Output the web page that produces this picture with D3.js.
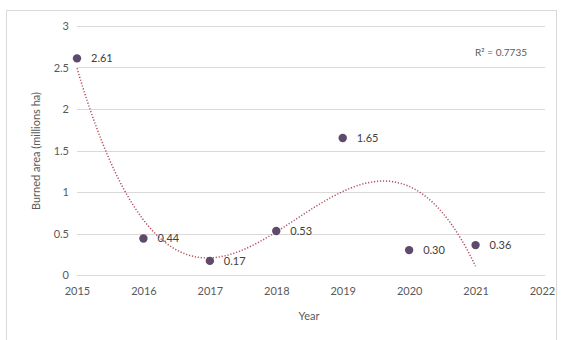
<!DOCTYPE html>
<html><head><meta charset="utf-8">
<script src="https://cdn.jsdelivr.net/npm/d3@7"></script>
<style>body{margin:0;background:#fff}svg{display:block}text{font-family:Lato,"Open Sans",sans-serif}</style>
</head><body>
<script>
const years = [2015, 2016, 2017, 2018, 2019, 2020, 2021];
const burned = [2.61, 0.44, 0.17, 0.53, 1.65, 0.30, 0.36];
const labels = ["2.61", "0.44", "0.17", "0.53", "1.65", "0.30", "0.36"];
const xTicks = [2015, 2016, 2017, 2018, 2019, 2020, 2021, 2022];
const yTicks = [0, 0.5, 1, 1.5, 2, 2.5, 3];
const yTickLabels = ["0", "0.5", "1", "1.5", "2", "2.5", "3"];
const r2Text = "R² = 0.7735";

const W = 563, H = 340;
const svg = d3.select("body").append("svg").attr("width", W).attr("height", H);
svg.append("rect").attr("x", 6.5).attr("y", 10.5).attr("width", 550).attr("height", 340)
  .attr("fill", "#fff").attr("stroke", "#d9d9d9");

const x = d3.scaleLinear().domain([2015, 2022]).range([77, 542]);
const y = d3.scaleLinear().domain([0, 3]).range([275, 26]);

// gridlines
svg.append("g").selectAll("line").data(yTicks).join("line")
  .attr("x1", x(2015)).attr("x2", x(2022) + 3)
  .attr("y1", d => Math.round(y(d)) + 0.5).attr("y2", d => Math.round(y(d)) + 0.5)
  .attr("stroke", "#d9d9d9").attr("stroke-width", 1);

// y tick labels
const yAxis = d3.axisLeft(y).tickValues(yTicks).tickSize(0).tickPadding(0)
  .tickFormat((d, i) => yTickLabels[i]);
const gy = svg.append("g").attr("transform", "translate(69,0)").call(yAxis);
gy.select(".domain").remove();
gy.selectAll("text").attr("font-size", 11).attr("fill", "#595959").attr("font-family", "Lato");

// x tick labels
const xAxis = d3.axisBottom(x).tickValues(xTicks).tickSize(0).tickPadding(0).tickFormat(d3.format("d"));
const gx = svg.append("g").attr("transform", "translate(0,287)").call(xAxis);
gx.select(".domain").remove();
gx.selectAll("text").attr("font-size", 11).attr("fill", "#595959").attr("font-family", "Lato");

// axis titles
svg.append("text").attr("x", 309).attr("y", 320).attr("text-anchor", "middle")
  .attr("font-size", 11).attr("fill", "#595959").text("Year");
svg.append("text").attr("transform", "translate(40,151) rotate(-90)").attr("text-anchor", "middle")
  .attr("font-size", 11).attr("fill", "#595959").text("Burned area (millions ha)");

// cubic least-squares trendline derived from data
function polyfit(xs, ys, deg) {
  const n = deg + 1;
  const A = Array.from({length: n}, () => new Array(n + 1).fill(0));
  for (let k = 0; k < xs.length; k++) {
    for (let i = 0; i < n; i++) {
      for (let j = 0; j < n; j++) A[i][j] += Math.pow(xs[k], i + j);
      A[i][n] += ys[k] * Math.pow(xs[k], i);
    }
  }
  for (let i = 0; i < n; i++) {
    let p = i;
    for (let r = i + 1; r < n; r++) if (Math.abs(A[r][i]) > Math.abs(A[p][i])) p = r;
    [A[i], A[p]] = [A[p], A[i]];
    for (let r = 0; r < n; r++) {
      if (r === i) continue;
      const f = A[r][i] / A[i][i];
      for (let c = i; c <= n; c++) A[r][c] -= f * A[i][c];
    }
  }
  return A.map((row, i) => row[n] / row[i]);
}
const xs0 = years.map(d => d - 2015);
const coef = polyfit(xs0, burned, 3);
const fit = t => coef.reduce((s, c, i) => s + c * Math.pow(t, i), 0);
const trend = d3.range(0, 6.001, 0.05).map(t => [2015 + t, fit(t)]);
svg.append("path").datum(trend)
  .attr("d", d3.line().x(d => x(d[0])).y(d => y(d[1])))
  .attr("fill", "none").attr("stroke", "#b0505e").attr("stroke-width", 1.5)
  .attr("stroke-dasharray", "1.2,1.8");

// points
svg.append("g").selectAll("circle").data(years).join("circle")
  .attr("cx", d => x(d)).attr("cy", (d, i) => y(burned[i])).attr("r", 4.2)
  .attr("fill", "#5e4b6b");

// data labels
svg.append("g").selectAll("text").data(years).join("text")
  .attr("x", d => x(d) + 14).attr("y", (d, i) => y(burned[i]) + 4)
  .attr("font-size", 11).attr("fill", "#404040").text((d, i) => labels[i]);

svg.append("text").attr("x", 527).attr("y", 56).attr("text-anchor", "end")
  .attr("font-size", 10).attr("fill", "#595959").text(r2Text);
</script>
</body></html>
